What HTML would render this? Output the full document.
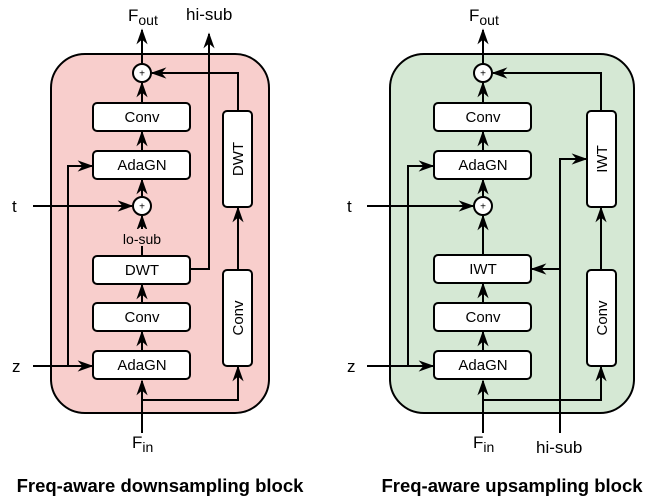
<!DOCTYPE html>
<html><head><meta charset="utf-8"><style>body{margin:0;background:#fff}svg{display:block}text{font-family:"Liberation Sans",Arial,sans-serif;fill:#000}</style></head><body>
<svg width="665" height="503" viewBox="0 0 665 503" xmlns="http://www.w3.org/2000/svg">
<defs>
<marker id="b" viewBox="0 0 10 10" refX="9" refY="5" markerWidth="16" markerHeight="16" orient="auto" markerUnits="userSpaceOnUse"><path d="M0,1.5 L10,5 L0,8.5 L3,5 Z" fill="#000"/></marker></defs>
<g stroke="#000" stroke-width="2" fill="none">
<rect x="51" y="54" width="218" height="359" rx="34" fill="#f8cecc"/>
<rect x="390" y="54" width="244" height="359" rx="34" fill="#d5e8d4"/>
</g>
<g stroke="#000" stroke-width="2" fill="none" marker-end="url(#b)">
<path d="M142 64 V30"/><path d="M142 103 V83"/><path d="M142 150 V132"/><path d="M142 197 V180"/>
<path d="M142 256 V216"/><path d="M142 303 V285"/><path d="M142 351 V332"/><path d="M142 433 V381"/>
<path d="M33 206 H132"/><path d="M33 366 H92"/><path d="M68 366 V166 H92"/>
<path d="M142 400 H238 V367"/><path d="M238 270 V208"/><path d="M238 111 V73 H152"/>
<path d="M191 269 H209 V34"/>
<path d="M483 64 V30"/><path d="M483 103 V83"/><path d="M483 150 V132"/><path d="M483 197 V180"/>
<path d="M483 255 V216"/><path d="M483 303 V284"/><path d="M483 351 V332"/><path d="M483 433 V381"/>
<path d="M367 206 H473"/><path d="M367 366 H433"/><path d="M408 366 V166 H433"/>
<path d="M483 400 H601 V367"/><path d="M601 270 V208"/><path d="M601 111 V73 H493"/>
<path d="M560 433 V159 H586"/><path d="M560 269 H532"/>
</g>
<g stroke="#000" stroke-width="2" fill="#fff">
<circle cx="142" cy="73" r="9"/><circle cx="142" cy="206" r="9"/>
<circle cx="483" cy="73" r="9"/><circle cx="483" cy="206" r="9"/>
<rect x="93" y="103" width="97" height="28" rx="4"/><rect x="93" y="151" width="97" height="28" rx="4"/>
<rect x="93" y="256" width="97" height="28" rx="4"/><rect x="93" y="303" width="97" height="28" rx="4"/><rect x="93" y="351" width="97" height="28" rx="4"/>
<rect x="223" y="111" width="29" height="96" rx="4"/><rect x="223" y="270" width="29" height="96" rx="4"/>
<rect x="434" y="103" width="97" height="28" rx="4"/><rect x="434" y="151" width="97" height="28" rx="4"/>
<rect x="434" y="255" width="97" height="28" rx="4"/><rect x="434" y="303" width="97" height="28" rx="4"/><rect x="434" y="351" width="97" height="28" rx="4"/>
<rect x="587" y="111" width="29" height="96" rx="4"/><rect x="587" y="270" width="29" height="96" rx="4"/>
</g>
<rect x="124" y="229" width="36" height="17" fill="#f8cecc"/>
<g font-size="10" text-anchor="middle"><text x="142" y="76.5">+</text><text x="142" y="209.5">+</text><text x="483" y="76.5">+</text><text x="483" y="209.5">+</text></g>
<g font-size="15" text-anchor="middle">
<text x="142" y="122">Conv</text><text x="142" y="170">AdaGN</text><text x="142" y="275">DWT</text><text x="142" y="322">Conv</text><text x="142" y="370">AdaGN</text>
<text x="483" y="122">Conv</text><text x="483" y="170">AdaGN</text><text x="483" y="274">IWT</text><text x="483" y="322">Conv</text><text x="483" y="370">AdaGN</text>
<text transform="translate(243,159) rotate(-90)">DWT</text><text transform="translate(243,318) rotate(-90)">Conv</text>
<text transform="translate(607,159) rotate(-90)">IWT</text><text transform="translate(607,318) rotate(-90)">Conv</text>
</g>
<text x="142" y="244" font-size="14" text-anchor="middle">lo-sub</text>
<g font-size="17">
<text x="128" y="21">F<tspan font-size="14" dy="4">out</tspan></text>
<text x="186" y="20">hi-sub</text>
<text x="12" y="212">t</text><text x="12" y="372">z</text>
<text x="132" y="448">F<tspan font-size="14" dy="4">in</tspan></text>
<text x="469" y="21">F<tspan font-size="14" dy="4">out</tspan></text>
<text x="347" y="212">t</text><text x="347" y="372">z</text>
<text x="473" y="448">F<tspan font-size="14" dy="4">in</tspan></text>
<text x="536" y="453">hi-sub</text>
</g>
<g font-size="18.5" font-weight="bold" text-anchor="middle">
<text x="160" y="492">Freq-aware downsampling block</text>
<text x="512" y="492">Freq-aware upsampling block</text>
</g>
</svg>
</body></html>
